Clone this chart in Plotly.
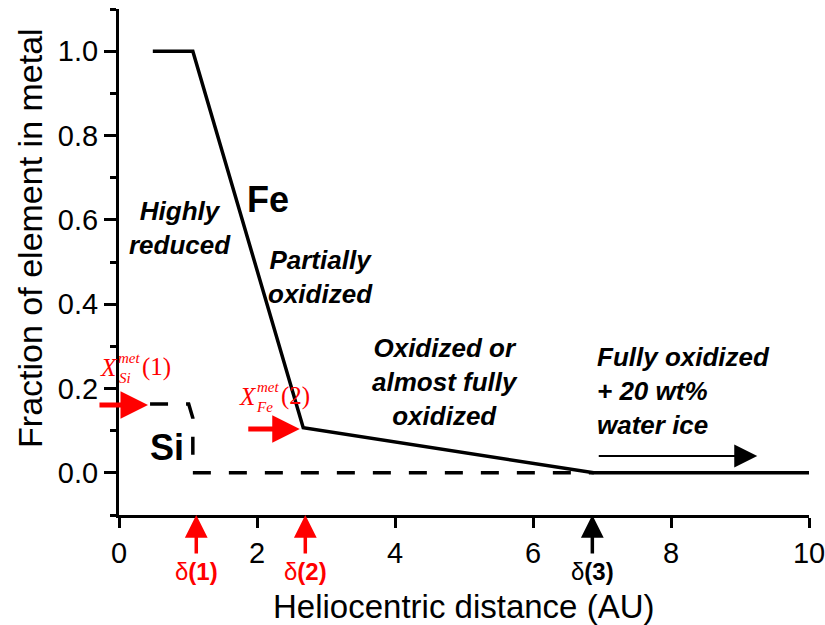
import plotly.graph_objects as go

# ---- data ----
fe_x = [0.49, 1.07, 2.67, 6.88, 10.0]
fe_y = [1.0, 1.0, 0.107, 0.0, 0.0]

si_x = [0.45, 1.01, 1.07, 1.07, 6.88]
si_y = [0.163, 0.163, 0.13, 0.0, 0.0]

delta_x = [1.12, 2.70, 6.86]
delta_labels = ["δ<b>(1)</b>", "δ<b>(2)</b>", "δ<b>(3)</b>"]
delta_colors = ["#ff0000", "#ff0000", "#000000"]

x_tickvals = [0, 2, 4, 6, 8, 10]
y_tickvals = [0.0, 0.2, 0.4, 0.6, 0.8, 1.0]

region_texts = ["<b><i>Highly<br>reduced</i></b>",
                "<b><i>Partially<br>oxidized</i></b>",
                "<b><i>Oxidized or<br>almost fully<br>oxidized</i></b>",
                "<b><i>Fully oxidized<br>+ 20 wt%<br>water ice</i></b>"]
region_x = [0.88, 2.92, 4.72, 6.9]
region_y = [0.58, 0.465, 0.215, 0.195]

SANS = "Arial, Liberation Sans, sans-serif"
SERIF = "Times New Roman, Liberation Serif, serif"
RED = "#ff0000"

fig = go.Figure()
fig.add_trace(go.Scatter(x=fe_x, y=fe_y, mode="lines",
                         line=dict(color="black", width=3.5), showlegend=False))
fig.add_trace(go.Scatter(x=si_x, y=si_y, mode="lines",
                         line=dict(color="black", width=3.5, dash="18px,18px"),
                         showlegend=False))

ann = []
# element labels
ann.append(dict(x=2.16, y=0.648, text="<b>Fe</b>", showarrow=False,
                font=dict(family=SANS, size=36, color="black")))
ann.append(dict(x=0.7, y=0.06, text="<b>Si</b>", showarrow=False,
                font=dict(family=SANS, size=36, color="black")))
# region texts
for i, (t, xx, yy) in enumerate(zip(region_texts, region_x, region_y)):
    ann.append(dict(x=xx, y=yy, text=t, showarrow=False,
                    xanchor="left" if i == 3 else "center", yanchor="middle",
                    align="left" if i == 3 else "center",
                    font=dict(family=SANS, size=26, color="black")))

# X^met_el (n) labels, built from pieces placed around an anchor point
def xlabel(xX, yX, sub, num, xs0=0):
    out = []
    out.append(dict(x=xX, y=yX, xshift=xs0, text="<i>X</i>", showarrow=False,
                    font=dict(family=SERIF, size=25, color=RED)))
    out.append(dict(x=xX, y=yX, xshift=xs0 + 20, yshift=9, text="<i>met</i>", showarrow=False,
                    font=dict(family=SERIF, size=15, color=RED)))
    out.append(dict(x=xX, y=yX, xshift=xs0 + 16, yshift=-11, text="<i>%s</i>" % sub,
                    showarrow=False, font=dict(family=SERIF, size=15, color=RED)))
    out.append(dict(x=xX, y=yX, xshift=xs0 + 47, yshift=0, text="(%s)" % num, showarrow=False,
                    font=dict(family=SERIF, size=25, color=RED)))
    return out

ann += xlabel(0.0, 0.251, "Si", "1", xs0=-10)
ann += xlabel(1.87, 0.182, "Fe", "2")

# red horizontal arrows
ann.append(dict(x=0.42, y=0.161, ax=-50, ay=0, text="", showarrow=True,
                arrowhead=2, arrowsize=1.1, arrowwidth=5, arrowcolor=RED))
ann.append(dict(x=2.62, y=0.104, ax=-53, ay=0, text="", showarrow=True,
                arrowhead=2, arrowsize=1.1, arrowwidth=5, arrowcolor=RED))
# black arrow
ann.append(dict(x=9.25, y=0.04, ax=-160, ay=0, text="", showarrow=True,
                arrowhead=2, arrowsize=2.3, arrowwidth=2, arrowcolor="black"))

# delta arrows and labels
for dx, lab, col in zip(delta_x, delta_labels, delta_colors):
    ann.append(dict(x=dx, y=-0.1, ax=0, ay=40, text="", showarrow=True,
                    arrowhead=2, arrowsize=1.3, arrowwidth=3.5, arrowcolor=col))
    ann.append(dict(x=dx, xref="x", y=-0.112, yref="paper", text=lab, showarrow=False,
                    xanchor="center", yanchor="middle",
                    font=dict(family=SANS, size=24, color=col)))

# axis titles
ann.append(dict(x=-0.128, y=0.547, xref="paper", yref="paper", textangle=-90,
                xanchor="center", yanchor="middle",
                text="Fraction of element in metal", showarrow=False,
                font=dict(family=SANS, size=34, color="black")))
ann.append(dict(x=0.499, y=-0.181, xref="paper", yref="paper",
                xanchor="center", yanchor="middle",
                text="Heliocentric distance (AU)", showarrow=False,
                font=dict(family=SANS, size=33, color="black")))

fig.update_layout(
    width=825, height=625,
    margin=dict(l=119, r=16, t=9, b=110),
    paper_bgcolor="white", plot_bgcolor="white",
    annotations=ann,
    showlegend=False,
)
fig.update_xaxes(range=[0, 10], tickvals=x_tickvals, showgrid=False, zeroline=False,
                 showline=True, linecolor="black", linewidth=3,
                 ticks="outside", ticklen=10, tickwidth=3, tickcolor="black",
                 automargin=False, ticklabeloverflow="allow",
                 tickfont=dict(family=SANS, size=29, color="black"))
fig.update_yaxes(range=[-0.1, 1.1], tickvals=y_tickvals, tickformat=".1f",
                 showgrid=False, zeroline=False,
                 showline=True, linecolor="black", linewidth=3,
                 ticks="outside", ticklen=12, tickwidth=3, tickcolor="black",
                 automargin=False, ticklabeloverflow="allow",
                 minor=dict(tickvals=[-0.1, 0.1, 0.3, 0.5, 0.7, 0.9, 1.1], ticklen=6,
                            tickwidth=3, tickcolor="black", ticks="outside"),
                 tickfont=dict(family=SANS, size=29, color="black"))

fig.write_html("out.html", config={"displayModeBar": False},
               post_script="document.body.style.margin='0';document.body.style.padding='0';")
